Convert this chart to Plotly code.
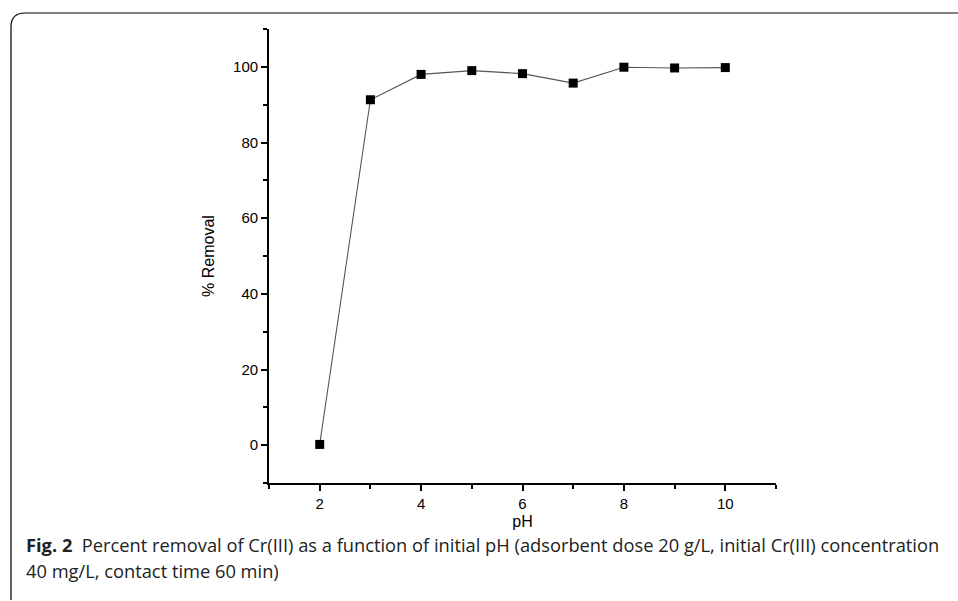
import plotly.graph_objects as go

ph = [2, 3, 4, 5, 6, 7, 8, 9, 10]
removal = [0.2, 91.3, 98.0, 99.0, 98.2, 95.7, 99.9, 99.7, 99.8]
x_title = "pH"
y_title = "% Removal"
caption_bold = "Fig. 2"
caption_line1 = "Percent removal of Cr(III) as a function of initial pH (adsorbent dose 20 g/L, initial Cr(III) concentration"
caption_line2 = "40 mg/L, contact time 60 min)"

W, H = 958, 601
L, R, T, B = 269, 776, 29, 483

def px(x):
    return (x - L) / (R - L)

def py(y):
    return (B - y) / (B - T)

fig = go.Figure()
fig.add_trace(go.Scatter(
    x=ph, y=removal, mode="lines+markers",
    line=dict(color="#555555", width=1.1),
    marker=dict(symbol="square", size=9, color="black"),
    showlegend=False,
))

tick_font = dict(family="Liberation Sans", size=15, color="black")

axis_common = dict(
    showline=True, linecolor="black", linewidth=1.8, mirror=False,
    ticks="outside", ticklen=6, tickwidth=1.8, tickcolor="black",
    showgrid=False, zeroline=False,
    tickfont=tick_font,
)

fig.update_layout(
    width=W, height=H,
    margin=dict(l=L, r=W - R, t=T, b=H - B),
    paper_bgcolor="white", plot_bgcolor="white",
    font=dict(family="Liberation Sans", color="black"),
    xaxis=dict(range=[1, 11], tick0=0, dtick=2,
               minor=dict(dtick=1, tick0=1, ticklen=4, tickwidth=1.8, tickcolor="black", ticks="outside"),
               title=dict(text=x_title, font=dict(family="Liberation Sans", size=16, color="black"), standoff=5),
               **axis_common),
    yaxis=dict(range=[-10, 110], tick0=0, dtick=20,
               minor=dict(dtick=10, tick0=-10, ticklen=4, tickwidth=1.8, tickcolor="black", ticks="outside"),
               title=dict(text=y_title, font=dict(family="Liberation Sans", size=16, color="black"), standoff=14),
               **axis_common),
)

xl, yt, xr, yb, r = px(11), py(13), px(958), py(600), 14
rx = r / (R - L)
ry = r / (B - T)
fig.add_shape(
    type="path", xref="paper", yref="paper",
    path=f"M {xr},{yt} L {xl + rx},{yt} Q {xl},{yt} {xl},{yt - ry} L {xl},{yb}",
    line=dict(color="black", width=1.2),
)

cap_font = dict(family="Open Sans", size=18.3, color="#222222")
fig.add_annotation(
    xref="paper", yref="paper", x=px(24), y=py(544), xanchor="left", yanchor="middle",
    text=f"<b>{caption_bold}</b>  {caption_line1}", showarrow=False, font=cap_font,
)
fig.add_annotation(
    xref="paper", yref="paper", x=px(24), y=py(570), xanchor="left", yanchor="middle",
    text=caption_line2, showarrow=False, font=cap_font,
)

fig.write_html("out.html", config={"displayModeBar": False},
               post_script="document.body.style.margin='0';document.body.style.padding='0';")
